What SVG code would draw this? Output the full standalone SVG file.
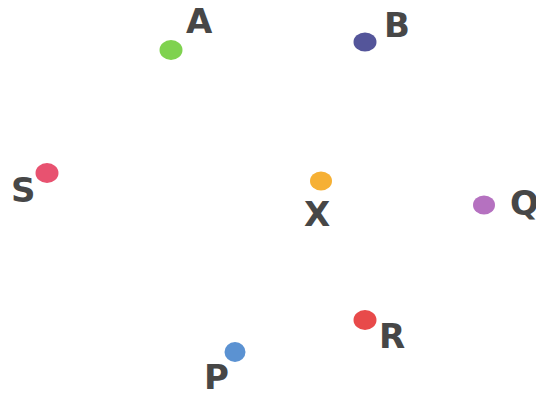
<svg xmlns="http://www.w3.org/2000/svg" width="536" height="396" viewBox="0 0 536 396">
<style>
.lbl{font-family:"DejaVu Sans","Liberation Sans",Arial,sans-serif;font-weight:bold;font-size:34px;fill:#474747}
</style>
<rect width="536" height="396" fill="#ffffff"/>
<g id="node-A"><ellipse cx="171" cy="50" rx="11.5" ry="10" fill="#7fd24f"/><text class="lbl" x="186" y="33">A</text></g>
<g id="node-B"><ellipse cx="365" cy="42" rx="11.5" ry="9.5" fill="#54559a"/><text class="lbl" x="384" y="37">B</text></g>
<g id="node-S"><ellipse cx="47" cy="173" rx="11.5" ry="10" fill="#e85270"/><text class="lbl" x="11" y="202">S</text></g>
<g id="node-X"><ellipse cx="321" cy="181" rx="11" ry="9.5" fill="#f6b034"/><text class="lbl" x="304" y="226">X</text></g>
<g id="node-Q"><ellipse cx="484" cy="205" rx="11" ry="9.5" fill="#b571c0"/><text class="lbl" x="510" y="215">Q</text></g>
<g id="node-R"><ellipse cx="365" cy="320" rx="11.5" ry="10" fill="#e84a4a"/><text class="lbl" x="379" y="348">R</text></g>
<g id="node-P"><ellipse cx="235" cy="352" rx="10.5" ry="10" fill="#5b92d2"/><text class="lbl" x="204" y="389">P</text></g>
<g id="connectors"></g>
</svg>
